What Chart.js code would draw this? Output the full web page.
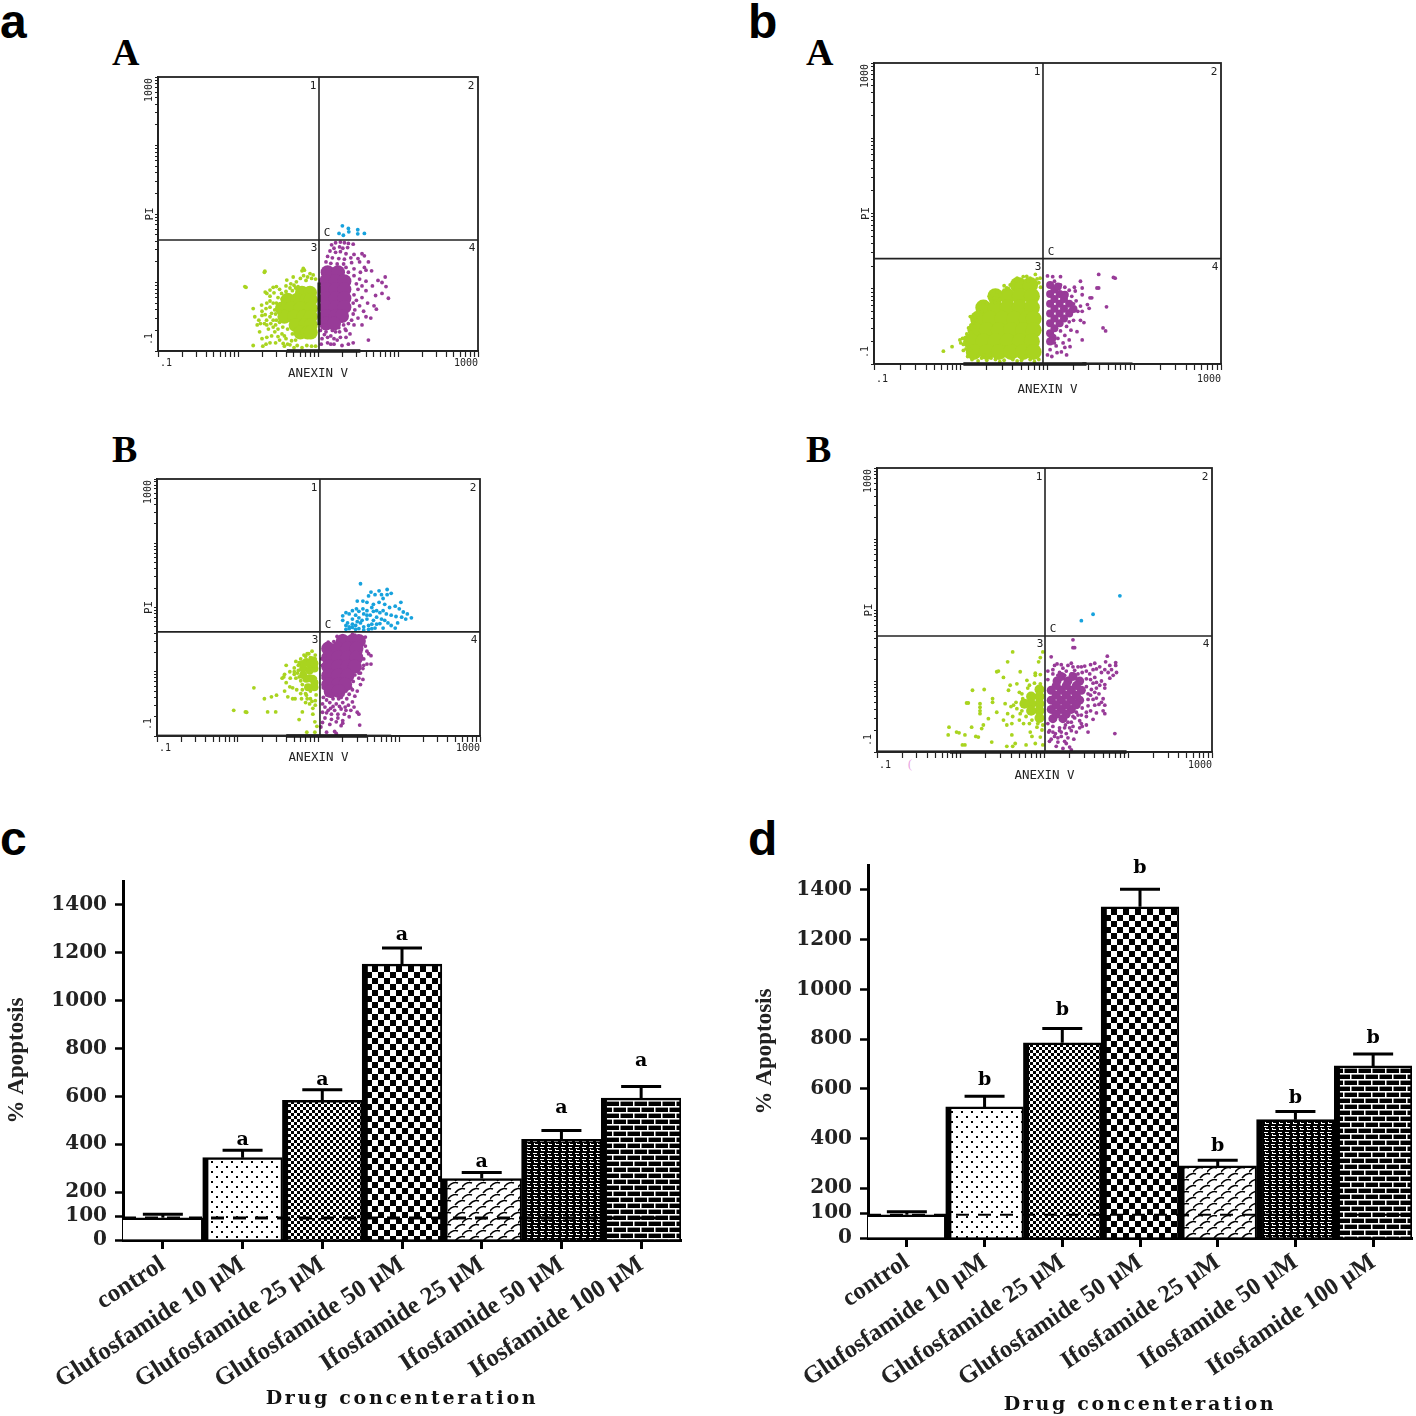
<!DOCTYPE html>
<html><head><meta charset="utf-8">
<script src="https://cdn.jsdelivr.net/npm/chart.js@4"></script>
<style>
html,body{margin:0;padding:0;background:#fff;}
body{position:relative;width:1416px;height:1416px;overflow:hidden;}
canvas{position:absolute;}
.pl{position:absolute;font:bold 48px/1 "Liberation Sans",sans-serif;color:#000;}
.sl{position:absolute;font:bold 38px/1 "Liberation Serif",serif;color:#000;}
</style></head><body>
<script>
/* ---------- values ---------- */
/* Flow cytometry clouds: [log10 Annexin V, log10 PI]. "Core" lists mark the solid-filled part of a cloud. */
const aA_green_core=[[.8,-.15],[.9,-.15],[.62,-.25],[.74,-.25],[.86,-.25],[.91,-.25],[.55,-.38],[.66,-.38],[.78,-.38],[.91,-.38],[.58,-.5],[.7,-.5],[.82,-.5],[.91,-.5],[.72,-.62],[.84,-.62],[.91,-.62],[.78,-.73],[.87,-.73],[.91,-.73]];
const aA_green=[[.086,-.06],[.1,-.07],[.336,.166],[.33,.15],[.816,.205],[.8,.17],[.83,.18],[.19,-.38],[.21,-.5],[.27,-.72],[.19,-.92],[.31,-.93],[.295,-.33],[.4,-.11],[.36,-.3],[.48,-.06],[.61,.035],[.69,.08],[.357,-.55],[.44,-.65],[.42,-.45],[.5,-.79],[.565,-.89],[.65,-.91],[.9,.13],[.94,.11],[.73,.01],[.545,-.16],[.44,-.07],[.52,-.1],[.6,-.05],[.66,-.02],[.78,.06],[.85,.03],[.92,.06],[.97,.05],[.3,-.48],[.33,-.6],[.26,-.55],[.24,-.62],[.38,-.68],[.42,-.78],[.36,-.8],[.48,-.55],[.5,-.68],[.55,-.75],[.6,-.82],[.68,-.75],[.72,-.84],[.74,-.92],[.8,-.95],[.92,-.93],[.97,-.93],[.48,-.3],[.5,-.22],[.46,-.4],[.68,-.12],[.72,-.08],[.47,-.88],[.56,-.65],[.62,-.68],[.4,-.27],[.36,-.16],[.34,-.14],[.4,-.2],[.45,-.15],[.35,-.38],[.4,-.36],[.44,-.3],[.47,-.46],[.4,-.5],[.44,-.55],[.3,-.42],[.34,-.47],[.28,-.6],[.36,-.62],[.41,-.6],[.47,-.62],[.3,-.82],[.35,-.9],[.4,-.88],[.46,-.72],[.52,-.84],[.58,-.78],[.62,-.9],[.67,-.85],[.7,-.95],[.52,-.58],[.52,-.42],[.52,-.32],[.55,-.24],[.6,-.13],[.65,-.08],[.7,-.04],[.75,-.06],[.82,.1],[.87,.08],[.58,-.93],[.86,-.92]];
const aA_purple_core=[[1.12,.15],[1.25,.15],[1.1,.02],[1.22,.02],[1.33,.02],[1.1,-.1],[1.22,-.1],[1.33,-.1],[1.1,-.23],[1.22,-.23],[1.33,-.23],[1.1,-.36],[1.22,-.36],[1.33,-.36],[1.1,-.49],[1.22,-.49],[1.3,-.49],[1.1,-.6],[1.2,-.6]];
const aA_purple=[[1.17,.55],[1.22,.58],[1.28,.59],[1.33,.58],[1.38,.57],[1.44,.56],[1.2,.5],[1.27,.52],[1.31,.5],[1.37,.51],[1.15,.46],[1.22,.44],[1.28,.45],[1.35,.42],[1.45,.41],[1.55,.42],[1.58,.39],[1.12,.38],[1.18,.36],[1.26,.35],[1.33,.34],[1.41,.36],[1.5,.35],[1.1,.3],[1.16,.28],[1.24,.27],[1.32,.27],[1.42,.29],[1.52,.3],[1.63,.3],[1.58,.22],[1.45,.2],[1.53,.15],[1.6,.18],[1.67,.17],[1.84,.08],[1.75,.03],[1.52,.05],[1.6,.02],[1.68,-.05],[1.8,0],[1.85,-.06],[1.8,-.16],[1.88,-.23],[1.72,-.19],[1.6,-.12],[1.5,-.1],[1.55,-.22],[1.62,-.3],[1.52,-.34],[1.7,-.34],[1.57,-.42],[1.73,-.39],[1.6,-.5],[1.66,-.52],[1.5,-.52],[1.42,-.55],[1.55,-.62],[1.35,-.7],[1.1,-.72],[1.16,-.78],[1.22,-.72],[1.28,-.8],[1.34,-.68],[1.4,-.75],[1.05,-.82],[1.12,-.88],[1.2,-.9],[1.3,-.92],[1.38,-.9],[1.44,-.88],[1.63,-.84],[1.45,-.62],[1.03,-.7],[1.08,-.62],[1.04,-.9],[1.24,-.84],[1.46,-.4],[1.44,-.3],[1.48,-.02],[1.55,-.05],[1.45,.1],[1.38,.15],[1.35,.22],[1.45,-.18],[1.48,-.26],[1.44,-.46],[1.38,-.6],[1.32,-.62],[1.26,-.66],[1.18,-.7],[1.12,-.8],[1.2,-.82],[1.27,-.72],[1.35,-.8],[1.08,-.76],[1.16,-.9]];
const aA_blue=[[1.305,.827],[1.38,.789],[1.385,.74],[1.263,.716],[1.317,.69],[1.497,.77],[1.497,.71],[1.58,.716]];
const aA_axisEvents=[[.61,1.53]];
const aA_gateEvents=[[0,-.62]];

const aB_green_core=[[.85,.15],[.925,.18],[.81,.05],[.89,.02],[.95,.05],[.85,-.11],[.925,-.11],[.95,-.24],[.87,-.24],[.81,-.05],[.89,-.1],[.95,-.17],[.89,.12],[.95,.13],[.81,.12]];
const aB_green=[[-.05,-.6],[.095,-.625],[.11,-.63],[.2,-.25],[.37,-.625],[.47,-.625],[.33,-.42],[.417,-.39],[.48,-.365],[.58,-.3],[.645,-.235],[.57,-.08],[.58,-.04],[.6,.1],[.75,.1],[.645,0],[.62,-.39],[.71,-.42],[.79,-.42],[.85,-.365],[.8,-.625],[.93,-.57],[.76,-.745],[.955,-.78],[.855,-.94],[.955,-.94],[.98,-.85],[.89,-.5],[.7,.06],[.72,.16],[.74,-.02],[.76,-.08],[.8,-.2],[.78,.2],[.82,.26],[.88,.28],[.92,.32],[.96,.26],[.7,-.04],[.84,-.34],[.9,-.42],[.96,-.45],[.65,-.1],[.55,-.1],[.6,-.17],[.93,-.66],[.68,-.42],[.97,-.36],[.75,.02],[.72,-.1],[.78,-.14],[.76,.14],[.84,.24],[.7,0],[.8,-.28],[.86,-.42],[.92,-.46],[.96,-.52],[.78,-.34],[.73,-.28],[.96,.2],[.96,-.1],[.9,-.3],[.68,-.25],[.84,-.48],[.9,.22],[.86,.28]];
const aB_purple_core=[[1.3,.48],[1.42,.48],[1.5,.48],[1.12,.36],[1.24,.36],[1.36,.36],[1.47,.36],[1.12,.22],[1.24,.22],[1.36,.22],[1.47,.22],[1.12,.08],[1.24,.08],[1.36,.08],[1.45,.08],[1.12,-.06],[1.24,-.06],[1.36,-.06],[1.12,-.2],[1.24,-.2],[1.33,-.2],[1.15,-.3],[1.25,-.3]];
const aB_purple=[[1.58,.54],[1.55,.52],[1.45,.57],[1.42,.58],[1.3,.56],[1.23,.55],[1.19,.47],[1.12,.46],[1.58,.4],[1.6,.32],[1.62,.28],[1.65,.25],[1.56,.2],[1.6,.12],[1.65,.12],[1.55,.05],[1.52,-.02],[1.45,-.05],[1.5,-.1],[1.55,-.12],[1.43,-.15],[1.52,-.2],[1.4,-.25],[1.48,-.3],[1.38,-.35],[1.45,-.38],[1.3,-.36],[1.35,-.42],[1.42,-.47],[1.25,-.42],[1.18,-.42],[1.1,-.44],[1.14,-.48],[1.22,-.5],[1.3,-.48],[1.37,-.52],[1.44,-.55],[1.05,-.5],[1.08,-.55],[1.15,-.57],[1.2,-.6],[1.28,-.58],[1.4,-.6],[1.48,-.63],[1.05,-.63],[1.1,-.64],[1.16,-.66],[1.24,-.66],[1.32,-.66],[1.38,-.7],[1.5,-.66],[1.08,-.72],[1.16,-.74],[1.22,-.78],[1.3,-.76],[1.05,-.79],[1.14,-.82],[1.28,-.84],[1.3,-.8],[1.51,-.83],[1.03,-.86],[1.2,-.93],[1.22,-.96],[1.1,-.94],[1.1,-.36],[1.16,-.38],[1.22,-.36],[1.28,-.4],[1.06,-.4],[1.34,-.3],[1.42,-.28],[1.5,-.02],[1.56,.1],[1.52,.3],[1.08,.25],[1.05,.1],[1.06,-.1],[1.06,-.25],[1.04,.2],[1.18,-.54],[1.26,-.54],[1.33,-.55],[1.12,-.6],[1.24,-.72],[1.34,-.6]];
const aB_blue=[[1.3,.87],[1.34,.92],[1.38,.9],[1.42,.95],[1.3,.8],[1.36,.76],[1.42,.82],[1.46,.88],[1.5,.94],[1.55,.98],[1.5,.84],[1.56,.9],[1.6,.95],[1.46,.72],[1.52,.76],[1.56,.7],[1.6,.82],[1.64,.88],[1.68,.94],[1.62,.72],[1.68,.8],[1.72,.85],[1.76,.92],[1.7,.68],[1.76,.75],[1.82,.8],[1.86,.76],[1.8,.68],[1.9,.72],[1.95,.68],[1.34,.66],[1.38,.67],[1.42,.69],[1.46,.66],[1.5,.67],[1.56,.65],[1.62,.66],[1.66,.67],[1.42,.74],[1.48,.78],[1.54,.8],[1.6,.88],[1.66,.74],[1.72,.74],[1.78,.82],[1.84,.9],[1.9,.88],[1.96,.86],[2.03,.85],[2.08,.82],[2.15,.84],[2.1,.9],[2.05,.93],[2,.98],[2.02,1.08],[1.95,1.02],[1.88,1.0],[1.82,1.05],[1.75,1.08],[1.68,1.05],[1.6,1.08],[1.55,1.1],[1.48,1.1],[1.8,1.14],[1.85,1.2],[1.9,1.22],[1.78,1.2],[1.7,1.2],[1.65,1.24],[1.62,1.18],[1.75,1.26],[1.85,1.28],[1.52,1.37],[1.72,.95],[1.98,.76],[1.38,.7],[1.34,.72],[1.47,.98],[1.66,1.0],[1.8,.95]];
const aB_axisEvents=[[.6,1.6]];
const aB_axisEventsThin=[[-1,1.9]];

const bA_green_core=[[.66,.05],[.8,.05],[.4,-.1],[.54,-.1],[.68,-.1],[.82,-.1],[.26,-.25],[.4,-.25],[.54,-.25],[.68,-.25],[.82,-.25],[.2,-.4],[.34,-.4],[.48,-.4],[.62,-.4],[.76,-.4],[.84,-.4],[.17,-.55],[.3,-.55],[.44,-.55],[.58,-.55],[.72,-.55],[.84,-.55],[.12,-.7],[.26,-.7],[.4,-.7],[.54,-.7],[.68,-.7],[.82,-.7],[.15,-.84],[.3,-.84],[.44,-.84],[.58,-.84],[.72,-.84],[.84,-.84]];
const bA_green=[[-.2,-.83],[-.1,-.77],[-.01,-.68],[.05,-.65],[.11,-.37],[.165,-.37],[.2,-.28],[.28,-.17],[.38,-.12],[.46,-.08],[.53,.01],[.61,.08],[.7,.12],[.76,.165],[.86,.19],[.915,.14],[.11,-.81],[.165,-.9],[.24,-.92],[.05,-.72],[.02,-.66],[.07,-.6],[.09,-.52],[.14,-.44],[.22,-.2],[.33,-.1],[.42,-.04],[.5,.04],[.57,.05],[.64,.11],[.72,.16],[.8,.14],[.9,.08],[.13,-.94],[.3,-.95],[.4,-.94],[.5,-.95],[.6,-.94],[.7,-.95],[.8,-.94],[.9,-.94],[.03,-.74],[.06,-.8],[0,-.72],[.08,-.9],[.12,-.48],[.16,-.5],[.18,-.42],[.12,-.58],[.2,-.35],[.24,-.3],[.3,-.2],[.35,-.16],[.4,-.18],[.45,-.14],[.5,-.02],[.55,0],[.6,.02],[.65,.14],[.7,.08],[.08,-.62],[.03,-.82],[.2,-.96],[.27,-.88],[.35,-.92],[.45,-.97],[.55,-.9],[.65,-.96],[.75,-.9],[.85,-.97],[.88,.13],[.78,.1],[.92,.02]];
const bA_purple_core=[[1.03,.05],[1.03,-.07],[1.14,-.07],[1.03,-.2],[1.14,-.2],[1.25,-.2],[1.03,-.33],[1.14,-.33],[1.25,-.33],[1.03,-.46],[1.14,-.46],[1.03,-.59],[1.03,-.7],[1.08,-.01],[1.08,-.135],[1.19,-.135],[1.08,-.265],[1.19,-.265],[1.08,-.395],[1.19,-.395],[1.08,-.525],[1.06,-.65],[1.3,-.27],[1.12,.03],[1.2,-.08]];
const bA_purple=[[1.59,.19],[1.78,.14],[1.76,.15],[1.59,.01],[1.57,.01],[1.4,.01],[1.31,.02],[1.51,-.12],[1.49,-.12],[1.48,-.26],[1.68,-.24],[1.38,-.23],[1.64,-.52],[1.67,-.56],[1.4,-.68],[1.26,-.77],[1.22,-.88],[1.15,.16],[1.38,.1],[1.42,-.45],[1.34,-.57],[1.26,-.28],[1.28,-.1],[1.18,-.06],[1.03,-.81],[1.11,-.85],[1.18,-.72],[1.0,.17],[1.06,.16],[1.08,.1],[1.15,.05],[1.2,.02],[1.25,-.02],[1.32,-.03],[1.4,-.08],[1.33,-.16],[1.3,-.2],[1.35,-.3],[1.4,-.3],[1.3,-.42],[1.25,-.44],[1.22,-.5],[1.27,-.55],[1.15,-.56],[1.2,-.62],[1.12,-.66],[1.08,-.72],[1.2,-.78],[1.25,-.68],[1.1,-.76],[1.0,-.88],[1.05,-.9],[1.16,-.84],[1.38,-.42],[1.46,-.21],[1.06,-.62]];
const bA_axisEvents=[[.03,1.45]];
const bA_axisEventsThin=[[1.4,1.98]];

const bB_green_core=[[.94,-.12],[.94,-.22],[.84,-.22],[.94,-.32],[.84,-.32],[.76,-.32],[.94,-.42],[.84,-.42],[.94,-.52]];
const bB_green=[[-.14,-.65],[-.15,-.76],[-.05,-.72],[-.02,-.73],[.05,-.76],[.13,-.65],[.21,-.79],[.18,-.78],[.27,-.62],[.25,-.67],[.33,-.53],[.09,-.31],[.07,-.31],[.14,-.13],[.28,-.12],[.23,-.32],[.23,-.37],[.23,-.42],[.23,-.46],[.38,-.25],[.38,-.3],[.43,.13],[.45,.14],[.51,.05],[.56,.27],[.62,.41],[.71,.13],[.59,-.06],[.67,-.04],[.79,.01],[.89,.11],[.95,.33],[.98,.41],[.93,.27],[.53,-.32],[.43,-.44],[.51,-.55],[.61,-.6],[.71,-.46],[.75,-.6],[.61,-.76],[.37,-.86],[.65,-.88],[.89,-.88],[.83,-.72],[.95,-.79],[.05,-.9],[.02,-.9],[.63,-.34],[.67,-.39],[.73,-.18],[.57,-.13],[.97,-.69],[.91,-.65],[.89,.08],[.95,.09],[.82,-.06],[.88,-.03],[.95,-.04],[.8,-.1],[.7,-.16],[.74,-.25],[.66,-.3],[.6,-.36],[.73,-.42],[.78,-.5],[.85,-.55],[.92,-.6],[.98,-.62],[.82,-.6],[.56,-.46],[.55,-.62],[.62,-.5],[.7,-.55],[.98,-.9],[.85,-.78],[.78,-.9],[.62,-.92],[.55,-.92]];
const bB_purple_core=[[1.15,0],[1.28,0],[1.42,0],[1.08,-.13],[1.2,-.13],[1.32,-.13],[1.44,-.13],[1.08,-.27],[1.2,-.27],[1.32,-.27],[1.42,-.27],[1.08,-.4],[1.2,-.4],[1.32,-.4],[1.1,-.53],[1.22,-.53],[1.2,.065],[1.34,.065],[1.14,-.065],[1.26,-.065],[1.38,-.065],[1.14,-.2],[1.26,-.2],[1.38,-.2],[1.14,-.335],[1.26,-.335],[1.38,-.335],[1.14,-.465],[1.26,-.465]];
const bB_purple=[[1.34,.58],[1.36,.47],[1.34,.47],[1.08,.34],[1.15,.24],[1.2,.23],[1.32,.25],[1.28,.22],[1.4,.2],[1.48,.21],[1.55,.23],[1.6,.25],[1.75,.35],[1.73,.27],[1.85,.26],[1.85,.22],[1.78,.22],[1.72,.16],[1.62,.17],[1.8,.16],[1.86,.12],[1.82,.08],[1.68,.12],[1.1,.1],[1.18,.12],[1.26,.14],[1.36,.15],[1.45,.12],[1.54,.1],[1.6,.05],[1.5,.03],[1.58,-.03],[1.68,0],[1.72,-.1],[1.62,-.1],[1.72,-.05],[1.65,-.18],[1.55,-.2],[1.58,-.26],[1.7,-.25],[1.72,-.34],[1.65,-.33],[1.52,-.35],[1.45,-.38],[1.55,-.42],[1.62,-.45],[1.7,-.42],[1.72,-.46],[1.4,-.48],[1.5,-.5],[1.58,-.54],[1.42,-.56],[1.36,-.52],[1.32,-.58],[1.45,-.64],[1.52,-.72],[1.32,-.7],[1.38,-.72],[1.84,-.74],[1.1,-.64],[1.18,-.66],[1.25,-.62],[1.06,-.7],[1.13,-.74],[1.2,-.78],[1.28,-.8],[1.35,-.82],[1.08,-.82],[1.16,-.86],[1.26,-.88],[1.3,-.93],[1.22,-.95],[1.32,-.97],[1.1,.16],[1.16,.08],[1.24,.08],[1.32,.1],[1.4,.1],[1.5,.14],[1.55,.02],[1.5,-.08],[1.56,-.12],[1.62,-.02],[1.66,-.06],[1.52,-.18],[1.6,-.16],[1.52,-.26],[1.6,-.34],[1.5,-.44],[1.44,-.48],[1.38,-.44],[1.34,-.5],[1.28,-.58],[1.34,-.64],[1.24,-.66],[1.18,-.7],[1.1,-.72],[1.04,-.6],[1.05,-.72],[1.12,-.78],[1.2,-.72],[1.26,-.74],[1.3,-.66],[1.42,-.66],[1.16,-.8],[1.24,-.85],[1.06,-.85],[1.14,-.92],[1.68,-.3],[1.62,-.24],[1.78,.04],[1.76,.12],[1.66,.2],[1.58,.16],[1.44,.2],[1.34,.2],[1.22,.18],[1.12,.22],[1.04,.14],[1.04,.02],[1.44,-.6],[1.5,-.62]];
const bB_blue=[[1.44,.85],[1.58,.94],[1.9,1.2]];
const bB_axisEvents=[[-.13,1.98]];
const bB_axisEventsThin=[[-1,-.13]];

/* Flow axis ticks and gate thresholds */
const flowTicks=[.1,.2,.3,.4,.5,.6,.7,.8,.9,1,2,3,4,5,6,7,8,9,10,20,30,40,50,60,70,80,90,100,200,300,400,500,600,700,800,900,1000];
const flowLabelMin=".1", flowLabelMax="1000";
const flowXTitle="ANEXIN V", flowYTitle="PI";
const quadrantLabels=["1","2","3","4"], gateLabel="C";
const gates={aA:[1.0125,.62],aB:[1.018,.62],bA:[.948,.40],bB:[1.006,.633]};

/* Bar panels */
const categories=["control","Glufosfamide 10 µM","Glufosfamide 25 µM","Glufosfamide 50 µM","Ifosfamide 25 µM","Ifosfamide 50 µM","Ifosfamide 100 µM"];
const barTicks=[0,100,200,400,600,800,1000,1200,1400];
const c_values=[93,344,584,1153,257,421,593];
const c_errTop=[108,375,628,1220,282,458,641];
const c_sig=["","a","a","a","a","a","a"];
const c_sigHeight=[0,418,669,1274,326,552,748];
const c_reference=[92];
const d_values=[93,527,785,1332,290,476,692];
const d_errTop=[106,570,842,1402,313,509,740];
const d_sig=["","b","b","b","b","b","b"];
const d_sigHeight=[0,634,917,1488,370,563,805];
const d_reference=[93];
const barXTitle="Drug concenteration", barYTitle="% Apoptosis";

/* ---------- page text ---------- */
function txt(cls,t,x,y,extra){const e=document.createElement('div');e.className=cls;e.textContent=t;e.style.left=x+'px';e.style.top=y+'px';if(extra)Object.assign(e.style,extra);document.body.appendChild(e);}
[['a',0,-2],['b',748,-2],['c',0,815],['d',748,815]].forEach(p=>txt('pl',p[0],p[1],p[2]));
[['A',112,33],['B',112,430],['A',806,33],['B',806,430]].forEach(p=>txt('sl',p[0],p[1],p[2]));
txt('sl','(',908,757,{font:'normal 12px "Liberation Serif",serif',color:'#e8a0e0'});

const GREEN='#a9d41f',PURPLE='#983b98',BLUE='#17a2dd';
const pts=a=>a.map(([x,y])=>({x:10**x,y:10**y}));
function mk(rect){const c=document.createElement('canvas');c.width=rect.w;c.height=rect.h;c.style.left=rect.x+'px';c.style.top=rect.y+'px';document.body.appendChild(c);return c;}

/* ---------- flow panels ---------- */
const flowDeco={id:'flowDeco',afterDraw(ch,_,o){
  const {ctx,chartArea:a,scales:{x,y}}=ch;
  ctx.save();ctx.strokeStyle='#222';ctx.lineWidth=1.8;ctx.strokeRect(a.left,a.top,a.right-a.left,a.bottom-a.top);
  ctx.fillStyle='#222';ctx.font='11px "DejaVu Sans Mono"';ctx.textBaseline='middle';
  const vx=x.getPixelForValue(10**o.gate[0]),hy=y.getPixelForValue(10**o.gate[1]);
  ctx.textAlign='center';
  ctx.fillText(quadrantLabels[0],vx-6,a.top+9);ctx.fillText(quadrantLabels[1],a.right-7,a.top+9);
  ctx.fillText(quadrantLabels[2],vx-5,hy+8);ctx.fillText(quadrantLabels[3],a.right-6,hy+8);
  ctx.fillText(gateLabel,vx+8,hy-7);
  ctx.font='10px "DejaVu Sans Mono"';
  ctx.textAlign='left';ctx.fillText(flowLabelMin,x.getPixelForValue(.1)+2,a.bottom+o.labOff);
  ctx.textAlign='right';ctx.fillText(flowLabelMax,x.getPixelForValue(1000),a.bottom+o.labOff);
  ctx.translate(a.left-9,a.top);ctx.rotate(-Math.PI/2);ctx.textAlign='right';ctx.fillText(flowLabelMax,-1,0);
  ctx.textAlign='left';ctx.fillText(flowLabelMin,-(a.bottom-a.top)+6,0);
  ctx.restore();
}};
function flow(L,R,T,B,gate,d){
  const rect={x:L-24,y:T-4,w:R-L+24+6,h:B-T+4+d.xh};
  const set=[];
  const line=(a,w,col)=>({type:'scatter',showLine:true,data:pts(a),borderColor:col,borderWidth:w,pointRadius:0,clip:false});
  set.push(line([[gate[0],-1],[gate[0],3]],1.6,'#222'));
  set.push(line([[-1,gate[1]],[3,gate[1]]],1.6,'#222'));
  (d.axis||[]).forEach(s=>set.push(line([[s[0],-1],[s[1],-1]],3.5,'#111')));
  (d.thin||[]).forEach(s=>set.push(line([[s[0],-.985],[s[1],-.985]],1.2,'#555')));
  (d.gateEv||[]).forEach(s=>set.push(line([[gate[0],s[0]],[gate[0],s[1]]],3,'#111')));
  const scat=(a,col,r)=>({type:'scatter',data:pts(a),backgroundColor:col,pointRadius:r,pointBorderWidth:0,pointHoverRadius:r});
  if(d.blue)set.push(scat(d.blue,BLUE,1.9));
  set.push(scat(d.purple,PURPLE,1.9));
  set.push(scat(d.purpleCore,PURPLE,d.pr));
  set.push(scat(d.green,GREEN,1.9));
  set.push(scat(d.greenCore,GREEN,d.gr));
  const axis={type:'logarithmic',min:.1,max:1000,afterBuildTicks:s=>{s.ticks=flowTicks.map(v=>({value:v}));}};
  new Chart(mk(rect),{type:'scatter',data:{datasets:set},plugins:[flowDeco],options:{
    responsive:false,animation:false,events:[],
    layout:{autoPadding:false,padding:{top:4,right:6,left:0,bottom:0}},
    plugins:{legend:{display:false},tooltip:{enabled:false},flowDeco:{gate,labOff:d.labOff}},
    scales:{
      x:{...axis,afterFit:s=>{s.height=d.xh;s.paddingLeft=0;s.paddingRight=0;},
        border:{color:'#222',width:1.8},
        grid:{drawOnChartArea:false,tickLength:6,tickWidth:1.2,tickColor:'#222'},
        ticks:{display:false,autoSkip:false},
        title:{display:true,text:flowXTitle,color:'#222',font:{family:'DejaVu Sans Mono',size:12.5},padding:{top:0,bottom:0}}},
      y:{...axis,afterFit:s=>{s.width=24;s.paddingTop=0;s.paddingBottom=0;},
        border:{color:'#222',width:1.8},
        grid:{drawOnChartArea:false,tickLength:3,tickWidth:1,tickColor:'#222'},
        ticks:{display:false,autoSkip:false},
        title:{display:true,text:flowYTitle,color:'#222',font:{family:'DejaVu Sans Mono',size:11},padding:{top:10,bottom:0}}}
    }}});
}
flow(158,478,77,351,gates.aA,{greenCore:aA_green_core,green:aA_green,purpleCore:aA_purple_core,purple:aA_purple,blue:aA_blue,axis:aA_axisEvents,gateEv:aA_gateEvents,gr:7,pr:7,xh:30,labOff:12});
flow(157,480,479,736,gates.aB,{greenCore:aB_green_core,green:aB_green,purpleCore:aB_purple_core,purple:aB_purple,blue:aB_blue,axis:aB_axisEvents,thin:aB_axisEventsThin,gr:4,pr:7,xh:29,labOff:12});
flow(874,1221,63,364,gates.bA,{greenCore:bA_green_core,green:bA_green,purpleCore:bA_purple_core,purple:bA_purple,axis:bA_axisEvents,thin:bA_axisEventsThin,gr:8,pr:4,xh:33,labOff:15});
flow(877,1212,468,752,gates.bB,{greenCore:bB_green_core,green:bB_green,purpleCore:bB_purple_core,purple:bB_purple,blue:bB_blue,axis:bB_axisEvents,thin:bB_axisEventsThin,gr:5,pr:4.5,xh:31,labOff:13});

/* ---------- bar fill patterns ---------- */
function tile(w,h,draw){const t=document.createElement('canvas');t.width=w;t.height=h;const g=t.getContext('2d');g.fillStyle='#fff';g.fillRect(0,0,w,h);g.fillStyle='#000';g.strokeStyle='#000';draw(g,w,h);return document.createElement('canvas').getContext('2d').createPattern(t,'repeat');}
const pDots=tile(10,10,g=>{g.fillRect(1,1,2,2);g.fillRect(6,6,2,2);});
const pFine=tile(6,6,g=>{g.fillRect(0,0,3,3);g.fillRect(3,3,3,3);});
const pCheck=s=>tile(s*2,s*2,g=>{g.fillRect(0,0,s,s);g.fillRect(s,s,s,s);});
const pWave=tile(14,12,g=>{g.lineWidth=1.5;g.beginPath();g.moveTo(0,5);g.quadraticCurveTo(5,-1,10,1);g.moveTo(7,11);g.quadraticCurveTo(12,5,17,7);g.moveTo(-7,11);g.quadraticCurveTo(-2,5,3,7);g.stroke();});
const pFineBrick=tile(7,6,g=>{g.fillRect(0,0,7,6);g.fillStyle='#fff';g.fillRect(1,1,4,1);g.fillRect(1,1,1,1);g.fillRect(2,4,4,1);g.fillRect(2,3,1,1);});
const pBrick=tile(14,12,g=>{g.fillRect(0,0,14,12);g.fillStyle='#fff';g.fillRect(0,2,14,1.6);g.fillRect(0,8,14,1.6);g.fillRect(3,3,1.5,5);g.fillRect(10,9,1.5,5);g.fillRect(10,0,1.5,2);});

/* ---------- bar panels ---------- */
const barDeco={id:'barDeco',afterDatasetsDraw(ch,_,o){
  const {ctx,scales:{x,y},chartArea:a}=ch;
  ctx.save();
  ctx.strokeStyle='#000';ctx.lineWidth=o.dashW;ctx.setLineDash(o.dash);
  const ry=y.getPixelForValue(o.reference[0]);
  ctx.beginPath();ctx.moveTo(a.left,ry);ctx.lineTo(a.right,ry);ctx.stroke();ctx.setLineDash([]);
  ctx.lineWidth=3;
  o.values.forEach((v,i)=>{
    const px=x.getPixelForValue(i),y0=y.getPixelForValue(v),y1=y.getPixelForValue(o.errTop[i]);
    ctx.beginPath();ctx.moveTo(px,y0);ctx.lineTo(px,y1);ctx.moveTo(px-20,y1);ctx.lineTo(px+20,y1);ctx.stroke();
    if(o.sig[i]){ctx.fillStyle='#000';ctx.font='bold 19px "DejaVu Serif"';ctx.textAlign='center';ctx.textBaseline='middle';ctx.fillText(o.sig[i],px,y.getPixelForValue(o.sigHeight[i]));}
  });
  ctx.restore();
}};
function spaceTitle(s,sp){if(s._spaced)return;s._spaced=true;const o=s.drawTitle;s.drawTitle=function(){this.ctx.letterSpacing=sp;o.call(this);this.ctx.letterSpacing='0px';};}
function bars(rect,L,R,T,B,d){
  const bw=i=>({top:2.5,bottom:0,left:i==0?0:6,right:2});
  new Chart(mk(rect),{type:'bar',data:{labels:categories,datasets:[{data:d.values,
     backgroundColor:[ '#fff',pDots,pFine,pCheck(d.cell),pWave,pFineBrick,pBrick],
     borderColor:'#000',borderWidth:ctx=>bw(ctx.dataIndex),borderSkipped:false,
     barPercentage:1,categoryPercentage:1}]},
    plugins:[barDeco],options:{responsive:false,animation:false,events:[],
    layout:{autoPadding:false,padding:{top:T-rect.y,right:rect.x+rect.w-R,left:0,bottom:0}},
    plugins:{legend:{display:false},tooltip:{enabled:false},barDeco:{values:d.values,errTop:d.errTop,sig:d.sig,sigHeight:d.sigHeight,reference:d.reference,dash:d.dash,dashW:d.dashW}},
    scales:{
      x:{afterFit:s=>{s.height=rect.y+rect.h-B;s.paddingLeft=0;s.paddingRight=0;spaceTitle(s,'2.7px');},
        border:{color:'#000',width:3},
        grid:{offset:false,drawOnChartArea:false,tickLength:9,tickWidth:3,tickColor:'#000'},
        ticks:{autoSkip:false,minRotation:d.rot,maxRotation:d.rot,color:'#222',padding:1,font:{family:'Liberation Serif',weight:'bold',size:d.fs}},
        title:{display:true,text:barXTitle,color:'#111',font:{family:'DejaVu Serif',weight:'bold',size:19},padding:{top:0,bottom:d.tb}}},
      y:{min:0,max:1500,afterBuildTicks:s=>{s.ticks=barTicks.map(v=>({value:v}));},afterFit:s=>{s.width=L-rect.x;s.paddingTop=0;s.paddingBottom=0;},
        border:{color:'#000',width:3},
        grid:{drawOnChartArea:false,tickLength:8,tickWidth:2.5,tickColor:'#000'},
        ticks:{autoSkip:false,color:'#222',padding:8,callback:v=>String(v),font:{family:'DejaVu Serif',weight:'bold',size:20}},
        title:{display:true,text:barYTitle,color:'#222',font:{family:'Liberation Serif',weight:'bold',size:23},padding:{top:d.yp,bottom:0}}}
    }}});
}
bars({x:0,y:870,w:700,h:546},123,681,881,1240,{values:c_values,errTop:c_errTop,sig:c_sig,sigHeight:c_sigHeight,reference:c_reference,cell:6,dash:[13,9],dashW:3,tb:6,yp:3,rot:33,fs:25});
bars({x:745,y:855,w:671,h:561},868,1412,865,1238,{values:d_values,errTop:d_errTop,sig:d_sig,sigHeight:d_sigHeight,reference:d_reference,cell:6,dash:[13,9],dashW:2,tb:0,yp:6,rot:34,fs:24.5});
</script>
</body></html>
